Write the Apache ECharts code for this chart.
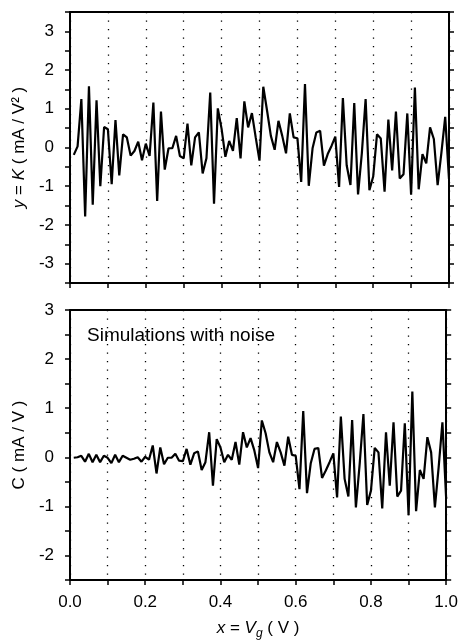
<!DOCTYPE html>
<html>
<head>
<meta charset="utf-8">
<style>
html,body{margin:0;padding:0;background:#fff;}
#chart{width:461px;height:642px;}
</style>
<script src="https://cdn.jsdelivr.net/npm/echarts@6/dist/echarts.min.js"></script>
</head>
<body>
<div id="chart"></div>
<script>
var xValues = [0.01,0.02,0.03,0.04,0.05,0.06,0.07,0.08,0.09,0.10,
0.11,0.12,0.13,0.14,0.15,0.16,0.17,0.18,0.19,0.20,
0.21,0.22,0.23,0.24,0.25,0.26,0.27,0.28,0.29,0.30,
0.31,0.32,0.33,0.34,0.35,0.36,0.37,0.38,0.39,0.40,
0.41,0.42,0.43,0.44,0.45,0.46,0.47,0.48,0.49,0.50,
0.51,0.52,0.53,0.54,0.55,0.56,0.57,0.58,0.59,0.60,
0.61,0.62,0.63,0.64,0.65,0.66,0.67,0.68,0.69,0.70,
0.71,0.72,0.73,0.74,0.75,0.76,0.77,0.78,0.79,0.80,
0.81,0.82,0.83,0.84,0.85,0.86,0.87,0.88,0.89,0.90,
0.91,0.92,0.93,0.94,0.95,0.96,0.97,0.98,0.99,1.00];

var kValues = [-0.19,0.03,1.25,-1.78,1.58,-1.48,1.22,-1.00,0.53,0.47,
-0.95,0.71,-0.72,0.34,0.26,-0.21,-0.09,0.15,-0.33,0.10,
-0.22,1.16,-1.38,0.93,-0.57,-0.02,-0.02,0.30,-0.22,-0.28,
0.62,-0.46,0.26,0.39,-0.67,-0.28,1.42,-1.45,1.01,0.48,
-0.24,0.17,-0.09,0.76,-0.28,1.19,0.52,0.89,0.26,-0.34,
1.57,0.95,0.30,-0.06,0.69,0.30,-0.15,0.88,0.26,0.24,
-0.89,1.64,-0.99,-0.02,0.39,0.43,-0.47,-0.17,0.04,0.28,
-1.02,1.28,-0.46,-0.97,1.15,-1.21,-0.15,1.25,-1.10,-0.75,
0.34,0.23,-1.14,0.72,-0.59,0.93,-0.80,-0.69,0.88,-1.22,
1.55,-1.08,-0.17,-0.41,0.52,0.22,-0.97,-0.13,0.79,-0.82];

var cValues = [-0.01,0.00,0.03,-0.09,0.07,-0.10,0.05,-0.10,0.03,-0.01,
-0.12,0.05,-0.10,0.03,-0.01,-0.05,-0.03,0.00,-0.09,0.01,
-0.05,0.24,-0.33,0.20,-0.14,-0.01,-0.01,0.07,-0.07,-0.08,
0.17,-0.15,0.08,0.12,-0.26,-0.10,0.51,-0.58,0.37,0.20,
-0.10,0.05,-0.05,0.31,-0.15,0.51,0.20,0.39,0.14,-0.22,
0.75,0.49,0.10,-0.10,0.31,0.10,-0.17,0.42,0.05,0.03,
-0.65,0.94,-0.73,-0.12,0.17,0.19,-0.42,-0.27,-0.10,0.08,
-0.82,0.83,-0.44,-0.80,0.76,-1.02,-0.14,0.88,-0.97,-0.68,
0.19,0.10,-1.04,0.51,-0.58,0.71,-0.80,-0.68,0.69,-1.18,
1.34,-1.10,-0.26,-0.44,0.41,0.10,-1.02,-0.20,0.71,-0.85];

var xTickLabels = ['0.0','0.2','0.4','0.6','0.8','1.0'];
var annotationText = 'Simulations with noise';

var FONT = '"Liberation Sans", Arial, Helvetica, sans-serif';
var chart = echarts.init(document.getElementById('chart'), null, {renderer: 'canvas'});

function pairs(ys){ return xValues.map(function(x,i){ return [x, ys[i]]; }); }

var axisLineStyle = {color:'#000', width:2};
var tickStyle = {color:'#000', width:1.5};

function bottomX(gridIndex, showLabels, withName){
  var ax = {
    type:'value', gridIndex:gridIndex, position:'bottom', min:0, max:1, interval:0.1,
    axisLine:{show:true, onZero:false, lineStyle:axisLineStyle},
    axisTick:{show:true, inside:false, length:5, lineStyle:tickStyle},
    axisLabel:{show:showLabels, margin:14, color:'#000', fontSize:17, fontFamily:FONT,
      formatter:function(v){
        var r = Math.round(v*10);
        if (r % 2 !== 0) return '';
        return xTickLabels[r/2];
      }},
    splitLine:{show:true, lineStyle:{color:'#000', width:1.3, type:[1.3,7.2]}}
  };
  if (withName){
    ax.name = '{i|x} = {i|V}{sub|g} ( V )';
    ax.nameLocation = 'middle';
    ax.nameGap = 36;
    ax.nameTextStyle = {color:'#000', fontSize:17, fontFamily:FONT,
      rich:{ i:{fontStyle:'italic', fontSize:17, fontFamily:FONT, color:'#000'},
             sub:{fontStyle:'italic', fontSize:12, fontFamily:FONT, color:'#000', padding:[12,0,0,0]} }};
  }
  return ax;
}
function topX(gridIndex){
  return {type:'value', gridIndex:gridIndex, position:'top', min:0, max:1,
    axisLine:{show:true, onZero:false, lineStyle:axisLineStyle},
    axisTick:{show:false}, axisLabel:{show:false}, splitLine:{show:false}};
}
function leftY(gridIndex, mn, mx, name){
  return {type:'value', gridIndex:gridIndex, position:'left', min:mn, max:mx, interval:0.5,
    axisLine:{show:true, onZero:false, lineStyle:axisLineStyle},
    axisTick:{show:true, inside:false, length:5, lineStyle:tickStyle},
    axisLabel:{show:true, margin:16, color:'#000', fontSize:17, fontFamily:FONT,
      formatter:function(v){ return (Math.abs(v - Math.round(v)) < 1e-6) ? String(Math.round(v)) : ''; }},
    splitLine:{show:false},
    name:name, nameLocation:'middle', nameGap:36, nameRotate:90,
    nameTextStyle:{color:'#000', fontSize:17, fontFamily:FONT,
      rich:{ i:{fontStyle:'italic', fontSize:17, fontFamily:FONT, color:'#000'} }}
  };
}
function rightY(gridIndex, mn, mx){
  return {type:'value', gridIndex:gridIndex, position:'right', min:mn, max:mx, interval:0.5,
    axisLine:{show:true, onZero:false, lineStyle:axisLineStyle},
    axisTick:{show:true, inside:false, length:5, lineStyle:tickStyle},
    axisLabel:{show:false}, splitLine:{show:false}};
}

var option = {
  animation:false,
  backgroundColor:'#fff',
  grid:[
    {left:70, right:12, top:12, height:271},
    {left:70, right:12, top:310, height:270}
  ],
  xAxis:[ bottomX(0,false,false), topX(0), bottomX(1,true,true), topX(1) ],
  yAxis:[
    leftY(0,-3.5,3.5,'{i|y} = {i|K} ( mA / V² )'),
    rightY(0,-3.5,3.5),
    leftY(1,-2.5,3,'C ( mA / V )'),
    rightY(1,-2.5,3)
  ],
  series:[
    {type:'line', xAxisIndex:0, yAxisIndex:0, data:pairs(kValues), symbol:'none',
     lineStyle:{color:'#000', width:2.2}, z:5},
    {type:'line', xAxisIndex:2, yAxisIndex:2, data:pairs(cValues), symbol:'none',
     lineStyle:{color:'#000', width:2.2}, z:5}
  ],
  graphic:[
    {type:'text', left:87, top:326, style:{text:annotationText, fill:'#000', font:'19px ' + FONT}}
  ]
};
chart.setOption(option);
</script>
</body>
</html>
